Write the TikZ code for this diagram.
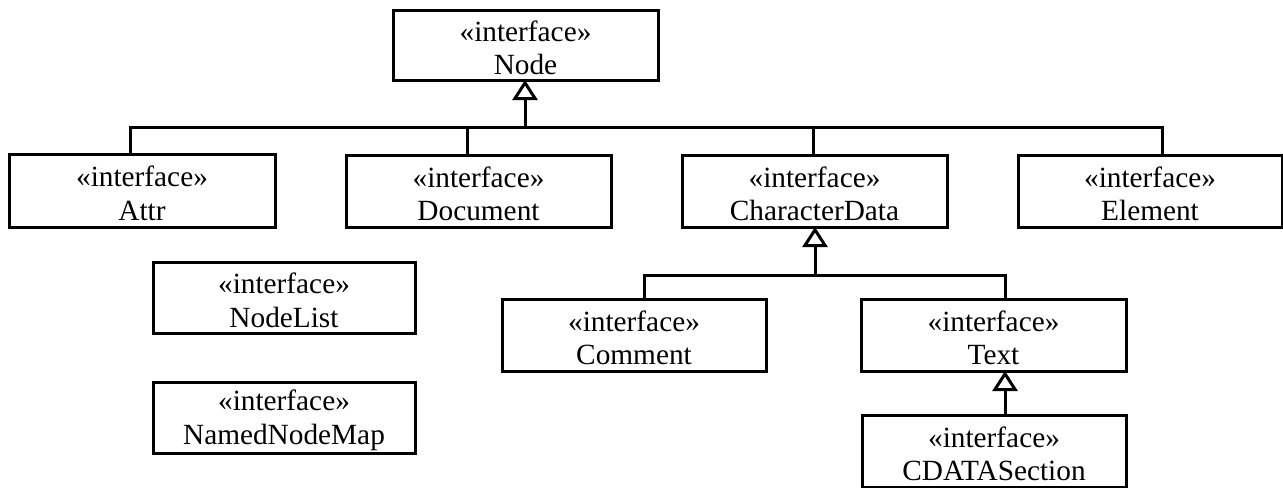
\documentclass[tikz,border=0pt]{standalone}
\usepackage{fontspec}
\setmainfont{Liberation Serif}
\usetikzlibrary{arrows.meta}
\tikzset{
  umlbox/.style={draw, line width=1.5pt, align=center, inner sep=0pt, outer sep=0pt,
    font=\fontsize{14.65}{16.8}\selectfont},
  conn/.style={line width=1.5pt},
  inh/.style={conn, -{Triangle[open, length=10pt, width=12.5pt, line width=1.5pt]}}
}
\newcommand\umlbox[6]{\node[umlbox, minimum width={(#4-#2)*0.5pt}, minimum height={(#5-#3)*0.5pt}] (#1) at ({(#2+#4)/2},{(#3+#5)/2}) {\rule{0pt}{13pt}«interface»\\#6};}
\begin{document}
\begin{tikzpicture}[x=0.5pt, y=-0.5pt]
\useasboundingbox (0,0) rectangle (1283,487);
\umlbox{Node}{393}{10}{658}{80}{Node}
\umlbox{Attr}{9}{154}{275}{227}{Attr}
\umlbox{Document}{346}{155}{611}{227}{Document}
\umlbox{CharacterData}{682}{155}{947}{227}{CharacterData}
\umlbox{Element}{1018}{155}{1282}{227}{Element}
\umlbox{NodeList}{153}{262}{415}{333}{NodeList}
\umlbox{NamedNodeMap}{153}{382}{415}{453}{NamedNodeMap}
\umlbox{Comment}{502}{299}{766}{371}{Comment}
\umlbox{Text}{861}{299}{1126}{371}{Text}
\umlbox{CDATASection}{862}{415}{1126}{487}{CDATASection}
% first level bus
\coordinate (j0) at (525,127);
\coordinate (b1) at (130,127);
\coordinate (b2) at (1162,127);
\coordinate (d1) at (467,127);
\coordinate (c1) at (813,127);
\draw[inh] (j0) -- (j0 |- Node.south);
\draw[conn] (b1 |- Attr.north) -- (b1) -- (b2) -- (b2 |- Element.north);
\draw[conn] (d1) -- (d1 |- Document.north);
\draw[conn] (c1) -- (c1 |- CharacterData.north);
% second level bus
\coordinate (j1) at (815,275);
\coordinate (m1) at (644,275);
\coordinate (t1) at (1005,275);
\draw[inh] (j1) -- (j1 |- CharacterData.south);
\draw[conn] (m1 |- Comment.north) -- (m1) -- (t1) -- (t1 |- Text.north);
% Text -> CDATASection
\coordinate (k1) at (1005,415);
\draw[inh] (k1 |- CDATASection.north) -- (k1 |- Text.south);
\end{tikzpicture}
\end{document}
